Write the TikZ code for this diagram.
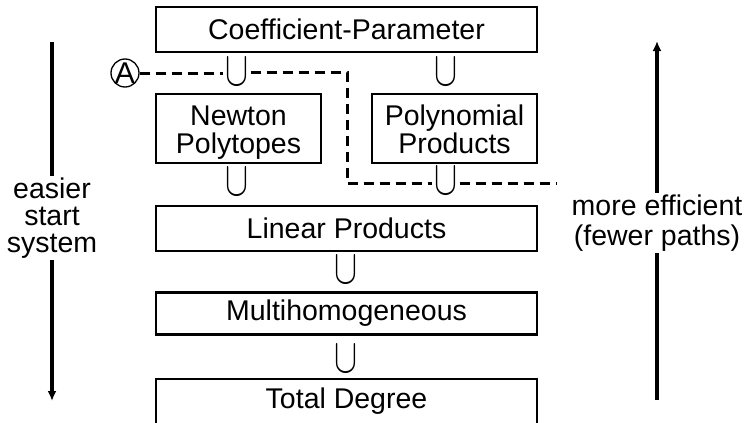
\documentclass[tikz,border=0pt]{standalone}
\usepackage{fontspec}
\setmainfont{Liberation Sans}
\usetikzlibrary{arrows.meta}
\newcommand{\cupglyph}{\resizebox{23pt}{27pt}{$\cup$}}
\begin{document}
\begin{tikzpicture}[x=1pt,y=-1pt,
  box/.style={draw,line width=2.4pt,inner sep=0pt,align=center,font=\fontsize{28.5}{28}\selectfont},
  cupsym/.style={inner sep=2pt},
  dashline/.style={line width=3pt,dash pattern=on 10pt off 6pt},
  sidearrow/.style={line width=3.2pt,-{Latex[length=10pt,width=9pt]}},
  sidetext/.style={fill=white,align=center,inner sep=2pt,font=\fontsize{28.5}{27}\selectfont}]
\clip (0,0) rectangle (748,423);
\fill[white] (0,0) rectangle (748,423);
% boxes
\node[box,minimum width=381pt,minimum height=45pt] (coef) at (346.5,29.5) {Coefficient-Parameter};
\node[box,minimum width=165pt,minimum height=69pt] (newton) at (238.5,128.5) {\rule{0pt}{28pt}Newton\\Polytopes};
\node[box,minimum width=165pt,minimum height=69pt] (poly) at (454.5,128.5) {\rule{0pt}{28pt}Polynomial\\Products\vphantom{y}};
\node[box,minimum width=381pt,minimum height=45pt] (linear) at (346.5,228.5) {Linear Products};
\node[box,minimum width=381pt,minimum height=42pt] (multi) at (346.5,313.5) {Multihomogeneous};
\node[box,minimum width=381pt,minimum height=45pt] (total) at (346.5,401.5) {Total Degree};
% cups
\node[cupsym] (cupA) at (237,71.5) {\cupglyph};
\node[cupsym] (cupB) at (446,71.5) {\cupglyph};
\node[cupsym] (cupC) at (237,182) {\cupglyph};
\node[cupsym] (cupD) at (446,181) {\cupglyph};
\node[cupsym] (cupE) at (346,270) {\cupglyph};
\node[cupsym] (cupF) at (346,359) {\cupglyph};
% circled A and dashed path
\node[circle,draw,line width=1.3pt,minimum size=28pt,inner sep=-1.5pt,font=\fontsize{30}{30}\selectfont] (circA) at (125,73) {A};
\coordinate (c1) at (347,72);
\coordinate (dend) at (556,183);
\draw[dashline] (circA.east) -- (circA.east -| cupA.west);
\draw[dashline] (cupA.east |- c1) -- (c1) -- (c1 |- dend) -- (dend -| cupD.west);
\draw[dashline] (dend -| cupD.east) -- (dend);
% side arrows
\coordinate (ltop) at (52,42);
\coordinate (lbot) at (52,401);
\coordinate (rbot) at (657,400);
\coordinate (rtop) at (657,41);
\draw[sidearrow] (ltop) -- (lbot);
\draw[sidearrow] (rbot) -- (rtop);
\node[sidetext] (ltext) at (52,218) {easier\\start\\system};
\node[sidetext,font=\fontsize{28.5}{30}\selectfont] (rtext) at (657,223) {more efficient\\(fewer paths)};
\end{tikzpicture}
\end{document}
